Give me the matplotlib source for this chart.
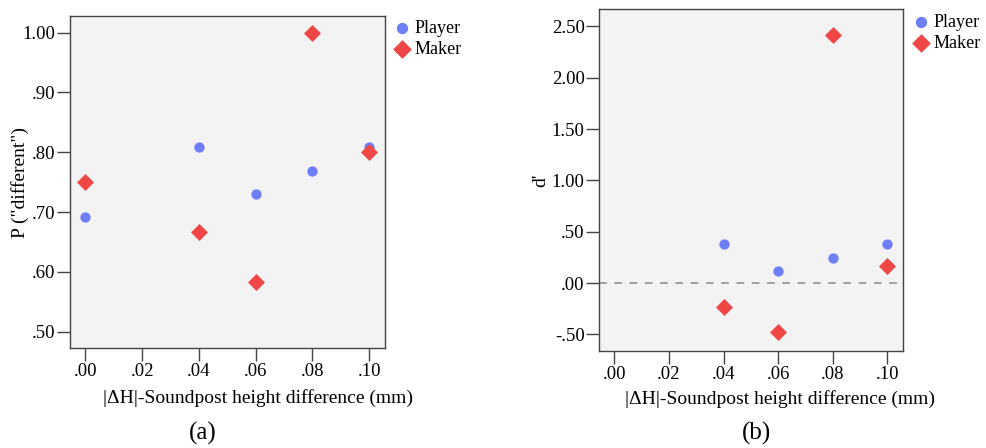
import matplotlib.pyplot as plt
import numpy as np

# data
x_a = [0.00, 0.04, 0.06, 0.08, 0.10]
p_player = [0.692, 0.808, 0.731, 0.769, 0.808]
p_maker = [0.750, 0.666, 0.583, 1.000, 0.800]

x_b = [0.04, 0.06, 0.08, 0.10]
d_player = [0.380, 0.117, 0.244, 0.380]
d_maker = [-0.231, -0.474, 2.419, 0.166]

xticks = [0.00, 0.02, 0.04, 0.06, 0.08, 0.10]
xticklabels = ['.00', '.02', '.04', '.06', '.08', '.10']
yticks_a = [0.5, 0.6, 0.7, 0.8, 0.9, 1.0]
yticklabels_a = ['.50', '.60', '.70', '.80', '.90', '1.00']
yticks_b = [-0.5, 0.0, 0.5, 1.0, 1.5, 2.0, 2.5]
yticklabels_b = ['-.50', '.00', '.50', '1.00', '1.50', '2.00', '2.50']

blue = '#6e7ef6'
red = '#f04646'
bg = '#f3f3f3'

plt.rcParams['font.family'] = ['Liberation Serif', 'DejaVu Serif']
plt.rcParams['font.size'] = 13.5

fig = plt.figure(figsize=(9.87, 4.48), dpi=100)
W, H = 987., 448.

def style(ax):
    ax.set_facecolor(bg)
    for s in ax.spines.values():
        s.set_color('#444444')
        s.set_linewidth(1.0)
    ax.tick_params(direction='out', length=9.5, width=1, color='#444444', labelsize=13.5, pad=1)

def legend(ax, x, y):
    ax.legend(loc='upper left', bbox_to_anchor=(x / W, 1 - y / H), bbox_transform=fig.transFigure,
              frameon=False, fontsize=13, handlelength=0.8, handletextpad=0.3,
              labelspacing=0.2, borderaxespad=0, borderpad=0, markerscale=1.1)

# panel (a)
ax1 = fig.add_axes([69.7/W, 1-348.3/H, (385-69.7)/W, (348.3-15.7)/H])
style(ax1)
ax1.scatter(x_a, p_player, s=55, color=blue, marker='o', label='Player', zorder=3, linewidths=0)
ax1.scatter(x_a, p_maker, s=75, color=red, marker='D', label='Maker', zorder=3, linewidths=0)
ax1.set_xlim(-0.0055, 0.1056)
ax1.set_ylim(0.4722, 1.0284)
ax1.set_xticks(xticks)
ax1.set_xticklabels(xticklabels)
ax1.set_yticks(yticks_a)
ax1.set_yticklabels(yticklabels_a)
ax1.set_xlabel('|ΔH|-Soundpost height difference (mm)', fontsize=14)
ax1.xaxis.set_label_coords(258/W, 1-389/H, transform=fig.transFigure)
ax1.set_ylabel('P ("different")', fontsize=14)
ax1.yaxis.set_label_coords(29/W, 1-182/H, transform=fig.transFigure)
legend(ax1, 395, 20)
fig.text(203/W, 1-433/H, '(a)', ha='center', va='center', fontsize=18)

# panel (b)
ax2 = fig.add_axes([599.3/W, 1-351/H, (903-599.3)/W, (351-9)/H])
style(ax2)
ax2.axhline(0, color='#888888', linestyle=(0, (5, 5)), linewidth=1.1, zorder=1)
ax2.scatter(x_b, d_player, s=55, color=blue, marker='o', label='Player', zorder=3, linewidths=0)
ax2.scatter(x_b, d_maker, s=75, color=red, marker='D', label='Maker', zorder=3, linewidths=0)
ax2.set_xlim(-0.0055, 0.1057)
ax2.set_ylim(-0.662, 2.669)
ax2.set_xticks(xticks)
ax2.set_xticklabels(xticklabels)
ax2.set_yticks(yticks_b)
ax2.set_yticklabels(yticklabels_b)
ax2.set_xlabel('|ΔH|-Soundpost height difference (mm)', fontsize=14)
ax2.xaxis.set_label_coords(780/W, 1-390/H, transform=fig.transFigure)
ax2.set_ylabel("d'", fontsize=14)
ax2.yaxis.set_label_coords(549/W, 1-180/H, transform=fig.transFigure)
legend(ax2, 914, 14)
fig.text(757/W, 1-433/H, '(b)', ha='center', va='center', fontsize=18)

fig.savefig('out.png', dpi=100)
